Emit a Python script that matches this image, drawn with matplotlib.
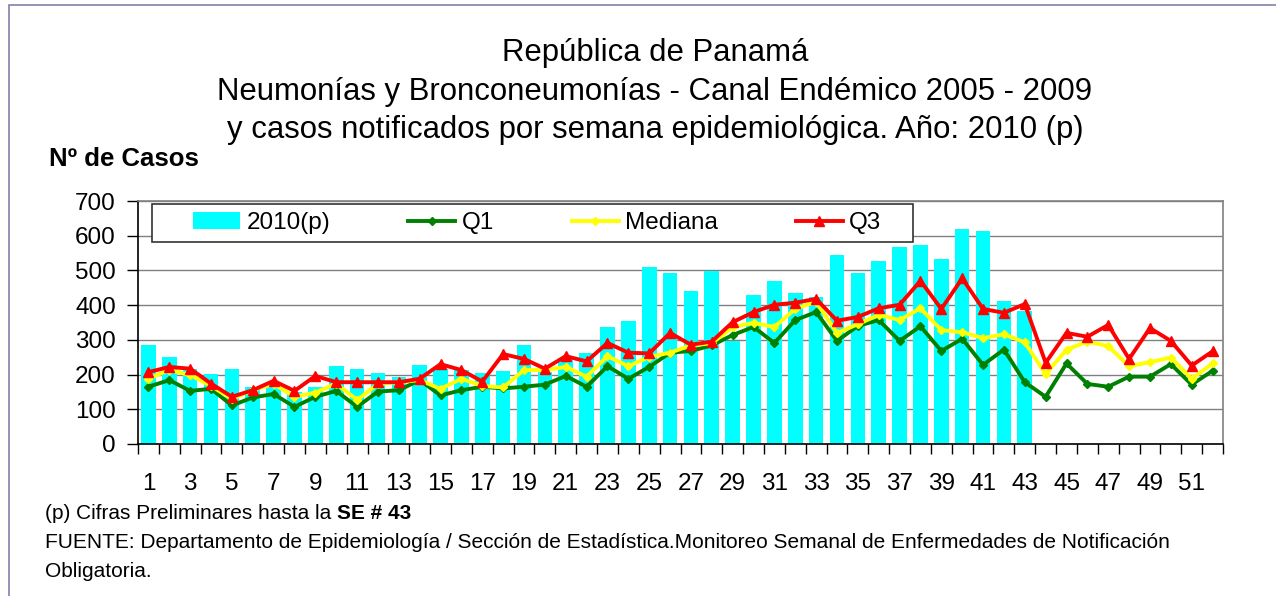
import numpy as np
import matplotlib
matplotlib.use("Agg")
import matplotlib.pyplot as plt
from matplotlib.patches import Rectangle, Patch
from matplotlib.lines import Line2D

plt.rcParams['font.family'] = ['Liberation Sans', 'DejaVu Sans']

weeks = list(range(1, 53))
cases_2010 = [286, 251, 217, 203, 217, 165, 165, 150, 165, 226, 217, 205, 194, 228, 217,
              212, 205, 211, 286, 208, 249, 263, 337, 355, 510, 493, 441, 499, 297, 430,
              470, 435, 424, 545, 493, 527, 568, 573, 533, 619, 614, 412, 384]
q1 = [165, 184, 153, 159, 111, 134, 144, 107, 136, 153, 107, 151, 155, 184, 140, 155,
      165, 160, 165, 171, 196, 165, 224, 188, 222, 263, 268, 284, 314, 337, 291, 357,
      380, 297, 340, 357, 297, 339, 268, 303, 228, 272, 178, 136, 232, 173, 165, 194,
      194, 230, 171, 211]
mediana = [188, 213, 199, 167, 130, 155, 173, 136, 148, 174, 127, 173, 178, 184, 159, 188,
           167, 163, 213, 213, 222, 194, 253, 224, 251, 263, 284, 290, 337, 349, 337, 389,
           410, 320, 345, 372, 357, 391, 328, 322, 305, 316, 293, 201, 272, 295, 282, 224,
           236, 249, 188, 232]
q3 = [207, 222, 217, 174, 136, 155, 182, 153, 196, 178, 178, 178, 178, 188, 230, 213,
      180, 259, 245, 217, 253, 238, 291, 263, 261, 320, 286, 295, 351, 380, 401, 407,
      418, 355, 366, 391, 401, 470, 389, 477, 389, 378, 403, 234, 320, 309, 343, 245,
      334, 297, 226, 267]
yticks = [0, 100, 200, 300, 400, 500, 600, 700]
xtick_labels = [str(w) for w in range(1, 53, 2)]

W, H = 1276, 596
fig = plt.figure(figsize=(W / 100, H / 100), dpi=100)
fig.patch.set_facecolor('white')

def fx(px):
    return px / W

def fy(py):
    return 1 - py / H

ax = fig.add_axes([fx(138), fy(444), fx(1223) - fx(138), fy(201) - fy(444)])

LW = 2.8
x = np.array(weeks)
ax.bar(x[:len(cases_2010)], cases_2010, width=0.7, color='#00FFFF', zorder=2)
ax.plot(x, q1, color='#008000', lw=LW, marker='D', ms=4.5, zorder=3)
ax.plot(x, mediana, color='#FFFF00', lw=LW, marker='D', ms=4.5, zorder=4)
ax.plot(x, q3, color='#FF0000', lw=LW, marker='^', ms=7.5, zorder=5)

ax.set_xlim(0.5, 52.5)
ax.set_ylim(0, 700)
ax.set_yticks(yticks)
ax.set_yticklabels([str(v) for v in yticks], fontsize=17.5)
ax.yaxis.grid(True, color='#808080', lw=1, zorder=1)
ax.set_axisbelow(True)
ax.tick_params(axis='y', direction='out', length=8, width=1, pad=8, color='black')

ax.set_xticks(list(range(1, 53, 2)))
ax.set_xticklabels(xtick_labels, fontsize=17.5)
ax.set_xticks(np.arange(0.5, 53, 1), minor=True)
ax.tick_params(axis='x', which='major', length=0, pad=21)
ax.tick_params(axis='x', which='minor', direction='out', length=7, width=1, color='black')

ax.spines['left'].set_color('black')
ax.spines['bottom'].set_color('black')
ax.spines['top'].set_color('#808080')
ax.spines['right'].set_color('#808080')
for s in ax.spines.values():
    s.set_linewidth(1.2)

# legend
handles = [Patch(facecolor='#00FFFF', edgecolor='none'),
           Line2D([], [], color='#008000', lw=LW, marker='D', ms=4.5),
           Line2D([], [], color='#FFFF00', lw=LW, marker='D', ms=4.5),
           Line2D([], [], color='#FF0000', lw=LW, marker='^', ms=7.5)]
labels = ['2010(p)', 'Q1', 'Mediana', 'Q3']
fig.patches.append(Rectangle((fx(152), fy(242)), fx(913) - fx(152), fy(204) - fy(242),
                             transform=fig.transFigure, facecolor='white',
                             edgecolor='#333333', lw=1.2, zorder=10))
leg = fig.legend(handles, labels, loc='center left', bbox_to_anchor=(fx(193), fy(223)),
                 ncol=4, frameon=False, fontsize=17.5, borderpad=0, borderaxespad=0,
                 handlelength=1.95, handletextpad=0.25, columnspacing=3.2)
leg.set_zorder(11)

# titles
title_lines = ['República de Panamá',
               'Neumonías y Bronconeumonías - Canal Endémico 2005 - 2009',
               'y casos notificados por semana epidemiológica. Año: 2010 (p)']
for line, base in zip(title_lines, [61, 100, 138]):
    fig.text(fx(655), fy(base), line, ha='center', va='baseline', fontsize=22.4)

fig.text(fx(49), fy(166), 'Nº de Casos', ha='left', va='baseline', fontsize=18.5,
         fontweight='bold')

# footnotes
FS = 15
t1 = fig.text(fx(45), fy(519), '(p) Cifras Preliminares hasta la ', ha='left',
              va='baseline', fontsize=FS)
ax.annotate('SE # 43', xy=(1, 0), xycoords=t1, ha='left', va='bottom', fontsize=FS,
            fontweight='bold', annotation_clip=False)
fig.text(fx(45), fy(548), 'FUENTE: Departamento de Epidemiología / Sección de Estadística.'
         'Monitoreo Semanal de Enfermedades de Notificación', ha='left', va='baseline',
         fontsize=FS)
fig.text(fx(45), fy(577), 'Obligatoria.', ha='left', va='baseline', fontsize=FS)

# outer border
fig.patches.append(Rectangle((fx(8.5), -0.5), 2, fy(5) + 0.5, transform=fig.transFigure,
                             fill=False, edgecolor='#8080a8', lw=1.2))

fig.savefig('out.png', dpi=100)
